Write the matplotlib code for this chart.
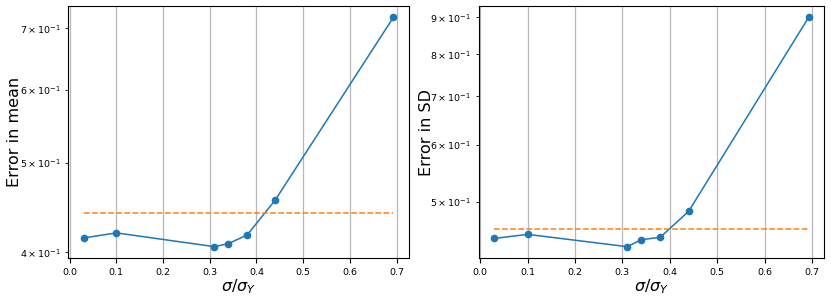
import matplotlib
matplotlib.use("Agg")
import matplotlib.pyplot as plt

# sigma / sigma_Y
ratio = [0.03, 0.10, 0.31, 0.34, 0.38, 0.44, 0.693]
err_mean = [0.4146, 0.4199, 0.4057, 0.4088, 0.4177, 0.4557, 0.7195]
err_sd = [0.4449, 0.4507, 0.4334, 0.4430, 0.4466, 0.4852, 0.900]
base_mean = 0.4412
base_sd = 0.4590

fig = plt.figure(figsize=(8.31, 2.96), dpi=100)
ax1 = fig.add_axes([0.082, 0.128, 0.410, 0.852])
ax2 = fig.add_axes([0.576, 0.128, 0.416, 0.852])

for ax, err, base, ylabel, lx in [(ax1, err_mean, base_mean, "Error in mean", -0.135),
                                  (ax2, err_sd, base_sd, "Error in SD", -0.13)]:
    ax.plot(ratio, err, "o-", color="#1f77b4", markersize=4.5, linewidth=1.1)
    ax.plot([ratio[0], ratio[-1]], [base, base], "--", color="#ff7f0e",
            linewidth=1.1)
    ax.set_yscale("log")
    ax.grid(True, axis="x", color="#b8b8b8", linewidth=0.9)
    ax.set_xlabel(r"$\sigma/\sigma_Y$", fontsize=11.5, labelpad=0)
    ax.set_ylabel(ylabel, fontsize=11.5)
    ax.yaxis.set_label_coords(lx, 0.5)
    ax.tick_params(axis="both", which="both", labelsize=6.8)

fig.savefig("out.png", dpi=100)
